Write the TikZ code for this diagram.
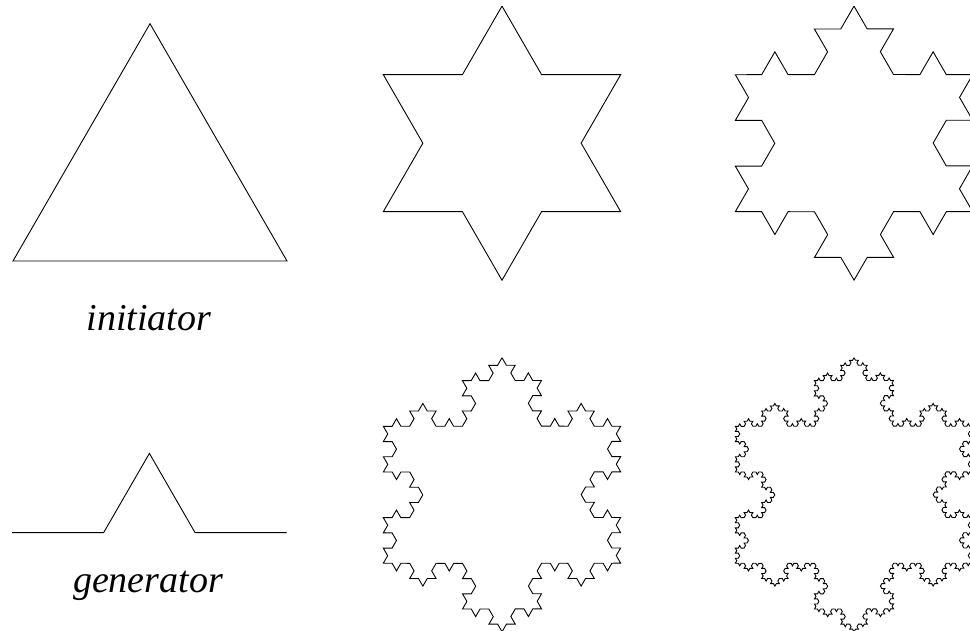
\documentclass[tikz,border=0pt]{standalone}
\usepackage{fontspec}
\setmainfont{Liberation Serif}
\usetikzlibrary{decorations.fractals}

\begin{document}
\begin{tikzpicture}[
    x=1pt, y=1pt,
    decoration=Koch snowflake,
    curve/.style={line width=0.9pt, line join=miter},
    tag/.style={font=\fontsize{38}{40}\selectfont\itshape, anchor=base, inner sep=0pt}
]
\useasboundingbox (0,0) rectangle (970,631);
\clip (0,0) rectangle (970,631);

% initiator
\draw[curve] (13,370) -- (287,370) -- (150,607.3) -- cycle;
\node[tag] (init) at (149,300.3) {initiator};

% generator
\draw[curve] (12,98.3) -- (103.6,98.3) -- (149.4,177.6) -- (195.1,98.3) -- (286.7,98.3);
\node[tag] (gen) at (148,38.5) {generator};

% iterations 1 and 2
\draw[curve] decorate{ (502,624.9) -- (620.7,419.3) -- (383.3,419.3) -- (502,624.9) };
\draw[curve] decorate{ decorate{ (854,624.9) -- (972.7,419.3) -- (735.3,419.3) -- (854,624.9) }};

% iterations 3 and 4
\draw[curve] decorate{ decorate{ decorate{ (502,273.3) -- (620.7,67.7) -- (383.3,67.7) -- (502,273.3) }}};
\draw[curve] decorate{ decorate{ decorate{ decorate{ (854,273.3) -- (972.7,67.7) -- (735.3,67.7) -- (854,273.3) }}}};
\end{tikzpicture}
\end{document}
